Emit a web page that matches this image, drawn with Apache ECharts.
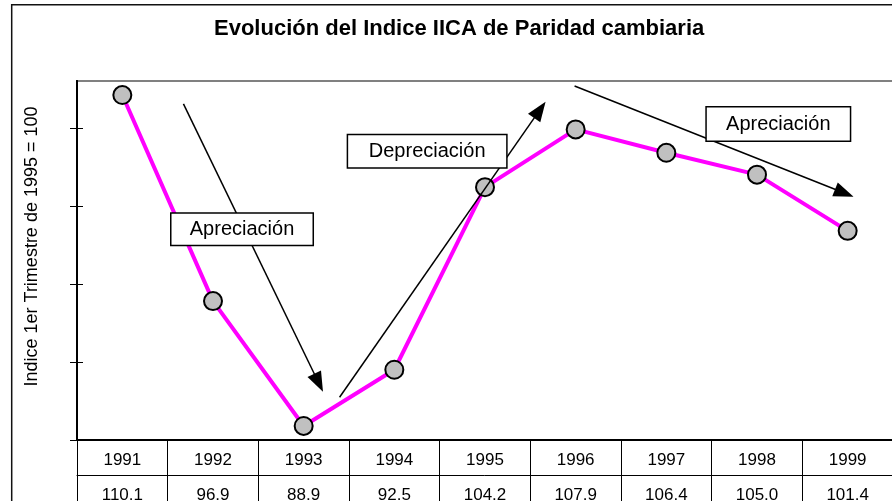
<!DOCTYPE html>
<html><head><meta charset="utf-8">
<script src="https://cdn.jsdelivr.net/npm/echarts@6/dist/echarts.min.js"></script>
<style>html,body{margin:0;padding:0;background:#fff}#c{width:892px;height:501px}</style>
</head><body><div id="c"></div>
<script>
const titleText = 'Evolución del Indice IICA de Paridad cambiaria';
const yAxisTitle = 'Indice 1er Trimestre de 1995 = 100';
const years = ['1991', '1992', '1993', '1994', '1995', '1996', '1997', '1998', '1999'];
const indexValues = [110.1, 96.9, 88.9, 92.5, 104.2, 107.9, 106.4, 105.0, 101.4];
const yTicks = [88, 93, 98, 103, 108];
const labelApreciacion = 'Apreciación';
const labelDepreciacion = 'Depreciación';

const FONT = '"Liberation Sans", Arial, sans-serif';
const chart = echarts.init(document.getElementById('c'), null, {renderer: 'canvas'});

function box(name, coord, w, h) {
  return {
    name: name, coord: coord, symbol: 'circle', symbolSize: 2,
    itemStyle: {color: 'rgba(0,0,0,0)', borderWidth: 0},
    label: {
      show: true, position: 'inside', formatter: p => p.name,
      width: w, height: h, lineHeight: h, align: 'center', verticalAlign: 'middle',
      padding: 0, backgroundColor: '#fff', borderColor: '#000', borderWidth: 1.5,
      color: '#000', fontSize: 20, fontFamily: FONT, opacity: 1
    }
  };
}

const option = {
  animation: false,
  backgroundColor: '#fff',
  title: {
    text: titleText, left: 214, top: 18, padding: 0,
    textStyle: {fontSize: 22, fontWeight: 'bold', color: '#000', fontFamily: FONT}
  },
  graphic: [{
    type: 'rect', silent: true, z: -1,
    shape: {x: 11.7, y: 4.7, width: 1000, height: 1000},
    style: {fill: 'none', stroke: '#111', lineWidth: 1.5}
  }],
  grid: {
    left: 77, right: -1, top: 81, bottom: 61,
    outerBoundsMode: 'none', containLabel: false,
    show: true, borderColor: '#808080', borderWidth: 2, backgroundColor: 'transparent'
  },
  xAxis: [{
    type: 'category', data: years, position: 'bottom', boundaryGap: true,
    axisLine: {show: true, onZero: false, lineStyle: {color: '#000', width: 2}},
    axisTick: {show: true, interval: 0, alignWithLabel: false, inside: false, length: 62, lineStyle: {color: '#000', width: 1}},
    axisLabel: {interval: 0, margin: 12, fontSize: 17, color: '#000', fontFamily: FONT},
    splitLine: {show: false}
  }, {
    type: 'category', data: years, position: 'bottom', offset: 35, boundaryGap: true,
    axisLine: {show: true, onZero: false, lineStyle: {color: '#000', width: 1}},
    axisTick: {show: false},
    axisLabel: {interval: 0, margin: 12, fontSize: 17, color: '#000', fontFamily: FONT,
      formatter: (v, i) => indexValues[i].toFixed(1)},
    splitLine: {show: false}
  }, {
    type: 'value', min: -0.5, max: years.length - 0.5, show: false, position: 'top',
    axisLine: {onZero: false}
  }],
  yAxis: [{
    type: 'value', min: 88, max: 111, position: 'left',
    name: yAxisTitle, nameLocation: 'middle', nameRotate: 90, nameGap: 36,
    nameTextStyle: {fontSize: 18, color: '#000', fontFamily: FONT, padding: [0, 0, 0, 28]},
    axisLine: {show: true, onZero: false, lineStyle: {color: '#000', width: 2}},
    axisTick: {show: true, inside: false, length: 7, customValues: yTicks, lineStyle: {color: '#000', width: 1}},
    axisLabel: {show: false},
    splitLine: {show: false}
  }, {
    type: 'value', min: 88, max: 111, position: 'left', offset: 0,
    axisLine: {show: true, onZero: false, lineStyle: {color: '#000', width: 2}},
    axisTick: {show: true, inside: true, length: 6, customValues: yTicks, lineStyle: {color: '#000', width: 1}},
    axisLabel: {show: false},
    splitLine: {show: false}
  }],
  series: [{
    type: 'line', data: indexValues, xAxisIndex: 0, yAxisIndex: 0, z: 3,
    symbol: 'circle', symbolSize: 18,
    lineStyle: {color: '#ff00ff', width: 4},
    itemStyle: {color: '#c0c0c0', borderColor: '#000', borderWidth: 2},
    emphasis: {disabled: true}
  }, {
    type: 'line', data: [], xAxisIndex: 2, yAxisIndex: 1, z: 5, silent: true,
    markLine: {
      z: 5, silent: true, animation: false,
      symbol: ['none', 'triangle'], symbolSize: [15, 20],
      lineStyle: {color: '#000', width: 1.5, type: 'solid'},
      label: {show: false},
      emphasis: {disabled: true},
      data: [
        [{coord: [0.674, 109.53]}, {coord: [2.165, 91.67]}],
        [{coord: [2.396, 90.74]}, {coord: [4.605, 109.15]}],
        [{coord: [4.988, 110.68]}, {coord: [7.963, 103.82]}]
      ]
    }
  }, {
    type: 'line', data: [], xAxisIndex: 2, yAxisIndex: 1, z: 6, silent: true,
    markPoint: {
      z: 6, silent: true, animation: false,
      emphasis: {disabled: true},
      data: [
        box(labelApreciacion, [1.320, 101.50], 141, 31),
        box(labelDepreciacion, [3.362, 106.50], 158, 32),
        box(labelApreciacion, [7.235, 108.24], 143, 33)
      ]
    }
  }]
};
chart.setOption(option);
</script>
</body></html>
